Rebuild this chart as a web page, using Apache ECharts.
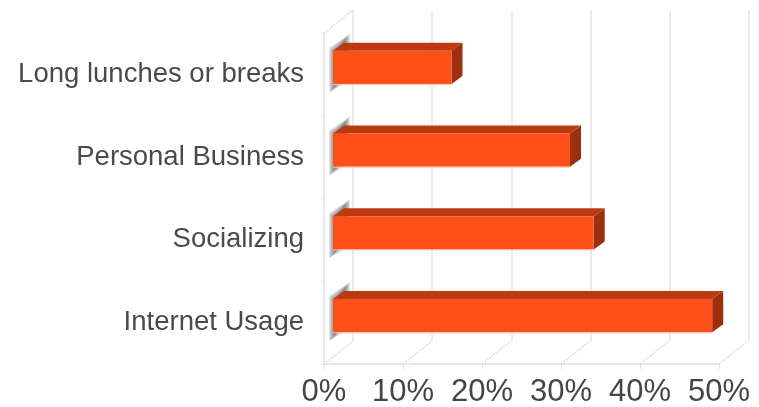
<!DOCTYPE html>
<html>
<head>
<meta charset="utf-8">
<style>html,body{margin:0;padding:0;background:#fff}#chart{width:759px;height:407px}</style>
<script src="https://cdn.jsdelivr.net/npm/echarts@6/dist/echarts.min.js"></script>
</head>
<body>
<div id="chart"></div>
<script>
// Share of wasted time by activity, percent
const categories = ['Long lunches or breaks', 'Personal Business', 'Socializing', 'Internet Usage'];
const shares = [15, 30, 33, 48];
const axisTicks = [0, 10, 20, 30, 40, 50];

// Pseudo-3D layout: the front plane is the main grid, the back wall is offset by the depth
const plane = { left: 324, top: 33, width: 395, height: 331 };
const depth = { x: 29, y: -23 };
const barDepth = { x: 11, y: -8 };
const barInset = { x: 9, y: -7 };
const barRatio = 0.4;

const FRONT = '#ff4f19', TOP = '#bc3a12', SIDE = '#9c2f0d';
const WALL = '#e0e0e0';

function poly(points, style, z2) {
  return { type: 'polygon', shape: { points }, style, z2 };
}

// Floor diagonals and the top-left wall edge
function renderWallEdges(params, api) {
  const p = api.coord([api.value(0), categories.length - 0.5]);
  const bottom = plane.top + plane.height;
  const seg = (x, y) => ({
    type: 'line',
    shape: { x1: x, y1: y, x2: x + depth.x, y2: y + depth.y },
    style: { stroke: WALL, lineWidth: 1.6, lineDash: [2, 1] }
  });
  const children = [seg(p[0], bottom)];
  if (params.dataIndex === 0) children.push(seg(p[0], plane.top));
  return { type: 'group', children };
}

// Soft shadow on the left wall behind each bar, built from nested translucent layers
function renderShadow(params, api) {
  const c = api.coord([0, api.value(1)]);
  const h = api.size([0, 1])[1] * barRatio;
  const x = c[0] + barInset.x;
  const top = c[1] + barInset.y - h / 2;
  const children = [];
  for (let k = 5; k >= 0; k--) {
    children.push(poly([
      [x + 1 - k, top + 2 - k],
      [x + barDepth.x + 1 + k, top - 12 - k],
      [x + barDepth.x + 1 + k, top + h - 9 + k],
      [x + 1 - k, top + h + 4 + k]
    ], { fill: 'rgba(90,90,90,0.17)' }, 5 - k));
  }
  return { type: 'group', children };
}

// One extruded bar: side, top and front faces
function renderBar(params, api) {
  const start = api.coord([0, api.value(1)]);
  const end = api.coord([api.value(0), api.value(1)]);
  const h = api.size([0, 1])[1] * barRatio;
  const x0 = start[0] + barInset.x, x1 = end[0] + barInset.x;
  const y0 = start[1] + barInset.y - h / 2, y1 = y0 + h;
  const dx = barDepth.x, dy = barDepth.y;
  return {
    type: 'group',
    children: [
      poly([[x1, y0], [x1 + dx, y0 + dy], [x1 + dx, y1 + dy], [x1, y1]], { fill: SIDE }, 1),
      poly([[x0, y0], [x0 + dx, y0 + dy], [x1 + dx, y0 + dy], [x1, y0]], { fill: TOP }, 1),
      { type: 'rect', shape: { x: x0, y: y0, width: x1 - x0, height: h },
        style: { fill: FRONT }, z2: 2 },
      { type: 'line', shape: { x1: x0, y1: y1 + 0.5, x2: x1, y2: y1 + 0.5 },
        style: { stroke: '#f7c4b4', lineWidth: 1 }, z2: 2 }
    ]
  };
}

const chart = echarts.init(document.getElementById('chart'), null, { renderer: 'canvas' });
chart.setOption({
  animation: false,
  backgroundColor: '#ffffff',
  textStyle: { fontFamily: '"Liberation Sans", Arial, sans-serif' },
  grid: [
    { left: plane.left, top: plane.top, width: plane.width, height: plane.height, outerBoundsMode: 'none' },
    { left: plane.left + depth.x, top: plane.top + depth.y, width: plane.width + 1, height: plane.height, outerBoundsMode: 'none' }
  ],
  xAxis: [
    {
      gridIndex: 0, type: 'value', min: 0, max: 50, interval: 10,
      axisLine: { show: true, lineStyle: { color: WALL, width: 1.5 } },
      axisTick: { show: true, length: 5, lineStyle: { color: WALL } },
      splitLine: { show: false },
      axisLabel: {
        margin: 13, fontSize: 31, color: '#454545',
        formatter: v => axisTicks.includes(v) ? v + '%' : '',
        hideOverlap: false, showMinLabel: true, showMaxLabel: true
      }
    },
    {
      gridIndex: 1, type: 'value', min: 0, max: 50, interval: 10,
      axisLine: { show: false }, axisTick: { show: false }, axisLabel: { show: false },
      splitLine: { show: true, lineStyle: { color: '#e6e6e6', width: 1.6 } }
    }
  ],
  yAxis: [
    {
      gridIndex: 0, type: 'category', inverse: true, data: categories,
      axisLine: { show: true, lineStyle: { color: WALL, width: 1.5 } },
      axisTick: { show: true, length: 3, lineStyle: { color: WALL } },
      axisLabel: { margin: 20, fontSize: 27.5, color: '#4a4a4a', interval: 0 }
    },
    {
      gridIndex: 1, type: 'category', inverse: true, data: categories,
      axisLine: { show: false }, axisTick: { show: false }, axisLabel: { show: false },
      splitLine: { show: false }
    }
  ],
  series: [
    {
      type: 'custom', xAxisIndex: 0, yAxisIndex: 0, z: 1, silent: true,
      renderItem: renderWallEdges,
      data: axisTicks.map(t => [t]),
      encode: { x: 0 }
    },
    {
      type: 'custom', xAxisIndex: 0, yAxisIndex: 0, z: 2, silent: true,
      renderItem: renderShadow,
      data: shares.map((v, i) => [v, i]),
      encode: { x: 0, y: 1 }
    },
    {
      type: 'custom', xAxisIndex: 0, yAxisIndex: 0, z: 3, silent: true,
      renderItem: renderBar,
      data: shares.map((v, i) => [v, i]),
      encode: { x: 0, y: 1 }
    }
  ]
});
</script>
</body>
</html>
